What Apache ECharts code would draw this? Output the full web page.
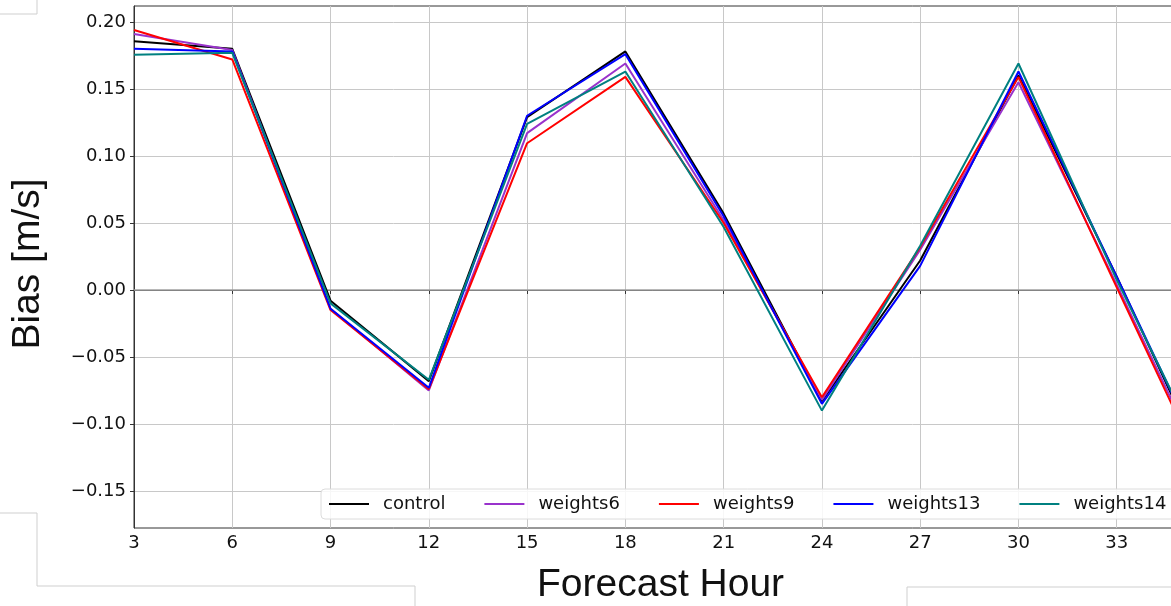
<!DOCTYPE html>
<html>
<head>
<meta charset="utf-8">
<script src="https://cdn.jsdelivr.net/npm/echarts@6/dist/echarts.min.js"></script>
<style>
  html, body { margin: 0; padding: 0; background: #fff; }
  #chart { width: 1171px; height: 606px; }
</style>
</head>
<body>
<div id="chart"></div>
<script>
// forecast hours and bias per experiment
const hours = [3, 6, 9, 12, 15, 18, 21, 24, 27, 30, 33, 36]
const control = [0.1856, 0.180, -0.008, -0.068, 0.129, 0.178, 0.057, -0.083, 0.022, 0.160, 0.010, -0.148]
const weights6 = [0.191, 0.179, -0.014, -0.075, 0.117, 0.169, 0.052, -0.082, 0.030, 0.155, 0.004, -0.150]
const weights9 = [0.194, 0.172, -0.015, -0.074, 0.1095, 0.159, 0.050, -0.080, 0.032, 0.159, 0.002, -0.154]
const weights13 = [0.180, 0.178, -0.014, -0.073, 0.130, 0.176, 0.055, -0.085, 0.018, 0.163, 0.010, -0.145]
const weights14 = [0.1756, 0.177, -0.010, -0.067, 0.124, 0.163, 0.047, -0.090, 0.033, 0.169, 0.0075, -0.142]
const yTicks = [-0.15, -0.10, -0.05, 0.00, 0.05, 0.10, 0.15, 0.20]

const seriesDefs = [
  { name: 'control', data: control, color: '#000000' },
  { name: 'weights6', data: weights6, color: '#9932cc' },
  { name: 'weights9', data: weights9, color: '#ff0000' },
  { name: 'weights13', data: weights13, color: '#0000ff' },
  { name: 'weights14', data: weights14, color: '#008080' }
]

const chart = echarts.init(document.getElementById('chart'))

const series = seriesDefs.map((s, i) => {
  const item = {
    name: s.name,
    type: 'line',
    data: hours.map((h, j) => [h, s.data[j]]),
    symbol: 'none',
    color: s.color,
    lineStyle: { width: 2, color: s.color },
    z: 3 + i
  }
  if (i === 0) {
    item.markLine = {
      silent: true,
      symbol: 'none',
      label: { show: false },
      lineStyle: { color: '#a0a0a0', width: 1.5, type: 'solid' },
      data: [{ yAxis: 0 }],
      z: 1
    }
  }
  return item
})

const fmt = v => {
  const s = v.toFixed(2)
  return s.replace('-', '\u2212')
}

const gray = '#c8c8c8'
const option = {
  animation: false,
  backgroundColor: '#fff',
  grid: {
    left: 134,
    top: 6,
    right: -44,
    bottom: 78,
    outerBoundsMode: 'none',
    containLabel: false,
    show: true,
    borderColor: '#333',
    borderWidth: 1
  },
  xAxis: {
    type: 'value',
    min: 3,
    max: 36,
    interval: 3,
    axisLine: { lineStyle: { color: '#333' } },
    axisTick: { show: true, length: 4, lineStyle: { color: '#333' } },
    axisLabel: { fontFamily: 'DejaVu Sans', fontSize: 18, color: '#111', margin: 6 },
    splitLine: { show: true, lineStyle: { color: gray, width: 1 } }
  },
  yAxis: {
    type: 'value',
    min: -0.1776,
    max: 0.2119,
    name: 'Bias [m/s]',
    nameLocation: 'middle',
    nameRotate: 90,
    nameGap: 86,
    nameTextStyle: { fontFamily: 'Liberation Sans', fontSize: 39, color: '#111', padding: [0, 0, 0, 6] },
    axisLine: { show: true, lineStyle: { color: '#333' } },
    axisTick: { show: true, length: 4, customValues: yTicks, lineStyle: { color: '#333' } },
    axisLabel: { customValues: yTicks, formatter: fmt, fontFamily: 'DejaVu Sans', fontSize: 18, color: '#111', margin: 8 },
    splitLine: { show: true, lineStyle: { color: gray, width: 1 } }
  },
  legend: {
    left: 321,
    top: 489,
    width: 900,
    icon: 'rect',
    itemWidth: 40,
    itemHeight: 2,
    itemGap: 39,
    padding: [6, 8, 6, 8],
    backgroundColor: 'rgba(255,255,255,0.85)',
    borderColor: '#dcdcdc',
    borderWidth: 1,
    borderRadius: 4,
    textStyle: { fontFamily: 'DejaVu Sans', fontSize: 18, color: '#111', padding: [0, 0, 0, 9] },
    data: seriesDefs.map(s => s.name)
  },
  graphic: [
    { type: 'text', left: 537, top: 566, style: { text: 'Forecast Hour', font: '39px "Liberation Sans"', fill: '#111' } },
    { type: 'polyline', silent: true, shape: { points: [[0, 14], [37, 14], [37, 0]] }, style: { stroke: '#cfcfcf', fill: null, lineWidth: 1 } },
    { type: 'polyline', silent: true, shape: { points: [[0, 513], [37, 513], [37, 586], [415, 586], [415, 606]] }, style: { stroke: '#cfcfcf', fill: null, lineWidth: 1 } },
    { type: 'polyline', silent: true, shape: { points: [[907, 606], [907, 587], [1171, 587]] }, style: { stroke: '#cfcfcf', fill: null, lineWidth: 1 } }
  ],
  series: series
}

chart.setOption(option)
</script>
</body>
</html>
